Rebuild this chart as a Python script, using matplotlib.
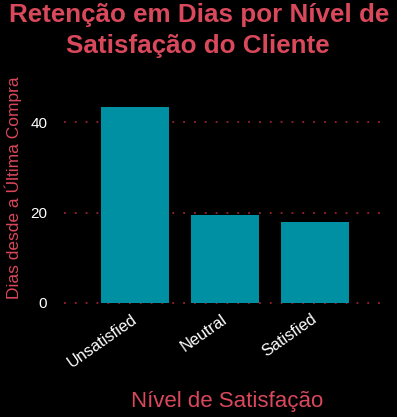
import matplotlib
matplotlib.use("Agg")
import matplotlib.pyplot as plt
from matplotlib.transforms import ScaledTranslation

categories = ["Unsatisfied", "Neutral", "Satisfied"]
values = [43.3, 19.5, 17.8]
yticks = [0, 20, 40]

W, H = 397, 417
plt.rcParams['font.family'] = ['Liberation Sans', 'DejaVu Sans']
fig = plt.figure(figsize=(W/100, H/100), dpi=100, facecolor='black')
ax = fig.add_axes([64/W, 1-305/H, 324/W, 210/H])
ax.set_facecolor('black')
x = range(len(categories))
ax.bar(x, values, width=0.75, color='#0090a4', zorder=2)
ax.set_xlim(-0.79, 2.81)
ax.set_ylim(-0.45, 46)
ax.set_yticks(yticks)
ax.set_xticks(list(x))
ax.set_xticklabels(categories, rotation=35, ha='right', va='center', rotation_mode='anchor',
                   color='white', fontsize=11.8)
off = ScaledTranslation(-8/100, 2/100, fig.dpi_scale_trans)
for lab in ax.get_xticklabels():
    lab.set_transform(lab.get_transform() + off)
ax.tick_params(axis='y', colors='white', labelsize=11, length=0, pad=12)
ax.tick_params(axis='x', length=0, pad=9)
ax.grid(axis='y', color='#a02030', linestyle=(0, (1, 5)), linewidth=1.3, zorder=1)
for s in ax.spines.values():
    s.set_visible(False)
red = '#d9485b'
fig.text(227/W, 1-407/H, "Nível de Satisfação", color=red, fontsize=16, ha='center', va='baseline')
fig.text(13/W, 1-188/H, "Dias desde a Última Compra", color=red, fontsize=12.5,
         ha='center', va='center', rotation=90)
title_lines = ["Retenção em Dias por Nível de", "Satisfação do Cliente"]
fig.text(199/W, 1-22/H, title_lines[0], color=red, fontsize=18.7, fontweight='bold',
         ha='center', va='baseline')
fig.text(198/W, 1-52.5/H, title_lines[1], color=red, fontsize=18.7, fontweight='bold',
         ha='center', va='baseline')
fig.savefig("out.png", dpi=100, facecolor='black')
